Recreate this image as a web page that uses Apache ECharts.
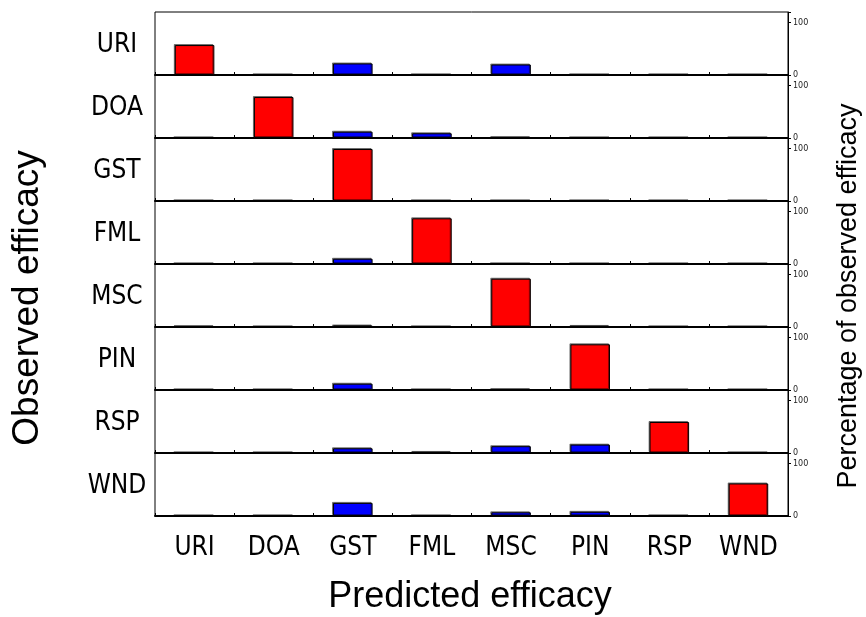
<!DOCTYPE html>
<html>
<head>
<meta charset="utf-8">
<script src="https://cdn.jsdelivr.net/npm/echarts@6/dist/echarts.min.js"></script>
<style>html,body{margin:0;padding:0;background:#fff}#c{width:866px;height:617px}</style>
</head>
<body>
<div id="c"></div>
<script>
// Predicted categories (x) and observed categories (rows)
var categories = ['URI', 'DOA', 'GST', 'FML', 'MSC', 'PIN', 'RSP', 'WND'];
var yTicks = [0, 100];
// Percentage of observed efficacy, one array per observed row
var rowURI = [57, 0, 22, 0, 20, 0, 0, 0];
var rowDOA = [0, 78, 12, 9, 1, 0, 0, 0];
var rowGST = [0, 0, 99, 0, 0, 0, 0, 0];
var rowFML = [0, 0, 10, 87, 0, 0, 0, 0];
var rowMSC = [1, 0, 3, 0, 92, 2, 0, 0];
var rowPIN = [0, 0, 12, 0, 1, 87, 0, 0];
var rowRSP = [0, 0, 9, 2, 13, 16, 59, 0];
var rowWND = [0, 0, 25, 0, 7, 8, 0, 62];
var rows = [rowURI, rowDOA, rowGST, rowFML, rowMSC, rowPIN, rowRSP, rowWND];

var CAT_FONT = '"Liberation Sans Narrow", "DejaVu Sans Condensed", "Liberation Sans", sans-serif';
var TITLE_FONT = '"Liberation Sans", sans-serif';
var TICK_FONT = '"DejaVu Sans", sans-serif';
var left = 155, plotW = 633, top0 = 12, panelH = 63;
var grids = [], xAxes = [], yAxes = [], series = [], graphics = [];
rows.forEach(function (row, i) {
  grids.push({left: left, width: plotW, top: top0 + panelH * i, height: panelH,
    show: true, borderColor: '#000', borderWidth: 1, containLabel: false});
  xAxes.push({type: 'category', gridIndex: i, data: categories,
    axisLine: {show: true, lineStyle: {color: '#000', width: 2}},
    axisTick: {show: true, inside: true, length: 3, lineStyle: {color: '#000'}},
    axisLabel: {show: i === rows.length - 1, fontFamily: CAT_FONT, fontSize: 26, color: '#000', margin: 19},
    splitLine: {show: false}});
  yAxes.push({type: 'value', gridIndex: i, position: 'right', min: 0, max: 120, interval: 100,
    axisLine: {show: true, lineStyle: {color: '#000', width: 1}},
    axisTick: {show: true, length: 3, lineStyle: {color: '#000'}},
    axisLabel: {fontFamily: TICK_FONT, fontSize: 8, color: '#222', margin: 5,
      formatter: function (v) { return yTicks.indexOf(v) >= 0 ? String(v) : ''; }},
    splitLine: {show: false}});
  series.push({type: 'bar', xAxisIndex: i, yAxisIndex: i, barWidth: '50%',
    data: row.map(function (v, j) {
      return {value: v, itemStyle: {color: j === i ? '#ff0000' : '#0000ff'}};
    }),
    itemStyle: {borderColor: '#000', borderWidth: 1, shadowColor: 'rgba(0,0,0,0.45)', shadowOffsetY: -1, shadowOffsetX: -1, shadowBlur: 0},
    silent: true, animation: false});
  graphics.push({type: 'text', x: 117, y: top0 + panelH * i + panelH / 2 + 2,
    style: {text: categories[i], font: '26px ' + CAT_FONT, fill: '#000', textAlign: 'center', textVerticalAlign: 'middle', verticalAlign: 'middle'}});
});
graphics.push({type: 'text', x: 28, y: 298, rotation: Math.PI / 2,
  style: {text: 'Observed efficacy', font: '37px ' + TITLE_FONT, fill: '#000', textAlign: 'center', textVerticalAlign: 'middle', verticalAlign: 'middle'}});
graphics.push({type: 'text', x: 849, y: 296, rotation: Math.PI / 2,
  style: {text: 'Percentage of observed efficacy', font: '27px ' + TITLE_FONT, fill: '#000', textAlign: 'center', textVerticalAlign: 'middle', verticalAlign: 'middle'}});
graphics.push({type: 'text', x: 470, y: 597,
  style: {text: 'Predicted efficacy', font: '36px ' + TITLE_FONT, fill: '#000', textAlign: 'center', textVerticalAlign: 'middle', verticalAlign: 'middle'}});

var chart = echarts.init(document.getElementById('c'), null, {renderer: 'canvas'});
chart.setOption({animation: false, grid: grids, xAxis: xAxes, yAxis: yAxes, series: series, graphic: graphics});
</script>
</body>
</html>
